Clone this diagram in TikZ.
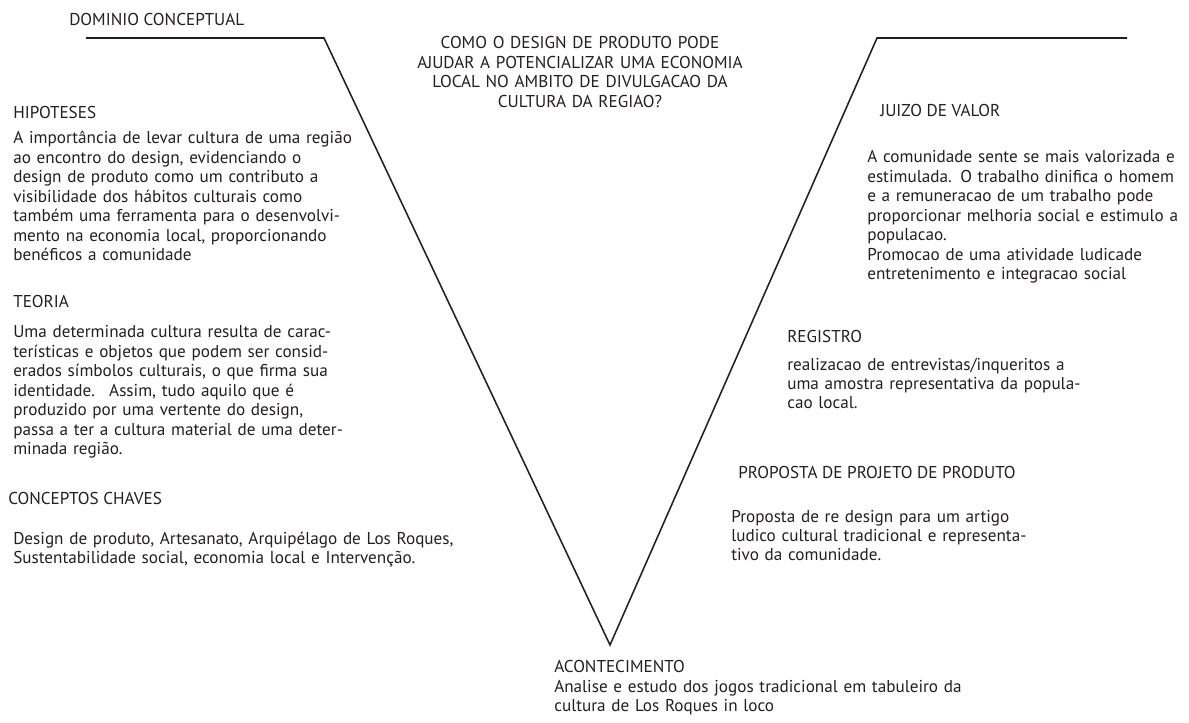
\documentclass[tikz,border=0pt]{standalone}
\usepackage{fontspec}
\setmainfont{PT Sans}
\usepackage{tikz}
\usetikzlibrary{positioning}
\definecolor{tinta}{HTML}{231F20}
\pgfdeclarelayer{nodelayer}
\pgfdeclarelayer{edgelayer}
\pgfsetlayers{edgelayer,nodelayer,main}
\tikzstyle{none}=[inner sep=-1pt]
\tikzstyle{titulo}=[inner sep=0pt, anchor=base west, text=tinta, font=\fontsize{12.2}{13.8}\selectfont]
\tikzstyle{texto}=[titulo, text width=12cm, align=left]
\tikzstyle{linha}=[draw=tinta, line width=1.1pt, line join=miter]

\begin{document}
\begin{tikzpicture}
	\useasboundingbox (0, 0) rectangle (29.725, -18.075);
	\begin{pgfonlayer}{nodelayer}
		\node [style=none] (0) at (2.15, -0.95) {};
		\node [style=none] (1) at (8.1, -0.95) {};
		\node [style=none] (2) at (15.25, -16.125) {};
		\node [style=none] (3) at (21.925, -0.95) {};
		\node [style=none] (4) at (28.175, -0.95) {};
		\node [style=titulo] (5) at (1.725, -0.65) {DOMINIO CONCEPTUAL};
		\node [style=titulo] (6) at (0.325, -2.975) {HIPOTESES};
		\node [style=texto] (7) at (0.325, -3.6) {A importância de levar cultura de uma região\\ao encontro do design, evidenciando o\\design de produto como um contributo a\\visibilidade dos hábitos culturais como\\também uma ferramenta para o desenvolvi-\\mento na economia local, proporcionando\\benéficos a comunidade};
		\node [style=titulo] (8) at (0.325, -7.675) {TEORIA};
		\node [style=texto] (9) at (0.325, -8.45) {Uma determinada cultura resulta de carac-\\terísticas e objetos que podem ser consid-\\erados símbolos culturais, o que firma sua\\identidade.~ Assim, tudo aquilo que é\\produzido por uma vertente do design,\\passa a ter a cultura material de uma deter-\\minada região.};
		\node [style=titulo] (10) at (0.2, -12.6) {CONCEPTOS CHAVES};
		\node [style=texto] (11) at (0.325, -13.6) {Design de produto, Artesanato, Arquipélago de Los Roques,\\Sustentabilidade social, economia local e Intervenção.};
		\node [style=texto, text width=9cm, align=center, anchor=base] (12) at (14.5, -1.225) {COMO O DESIGN DE PRODUTO PODE\\AJUDAR A POTENCIALIZAR UMA ECONOMIA\\LOCAL NO AMBITO DE DIVULGACAO DA\\CULTURA DA REGIAO?};
		\node [style=titulo] (13) at (22.0, -2.925) {JUIZO DE VALOR};
		\node [style=texto] (14) at (21.675, -4.075) {A comunidade sente se mais valorizada e\\estimulada. O trabalho dinifica o homem\\e a remuneracao de um trabalho pode\\proporcionar melhoria social e estimulo a\\populacao.\\Promocao de uma atividade ludicade\\entretenimento e integracao social};
		\node [style=titulo] (15) at (19.675, -8.55) {REGISTRO};
		\node [style=texto] (16) at (19.675, -9.25) {realizacao de entrevistas/inqueritos a\\uma amostra representativa da popula-\\cao local.};
		\node [style=titulo] (17) at (18.45, -11.95) {PROPOSTA DE PROJETO DE PRODUTO};
		\node [style=texto] (18) at (18.275, -13.05) {Proposta de re design para um artigo\\ludico cultural tradicional e representa-\\tivo da comunidade.};
		\node [style=titulo] (19) at (13.85, -16.8) {ACONTECIMENTO};
		\node [style=texto] (20) at (13.85, -17.3) {Analise e estudo dos jogos tradicional em tabuleiro da\\cultura de Los Roques in loco};
	\end{pgfonlayer}
	\begin{pgfonlayer}{edgelayer}
		\draw [style=linha] (0.center) to (1.center) to (2.center) to (3.center) to (4.center);
	\end{pgfonlayer}
\end{tikzpicture}
\end{document}
